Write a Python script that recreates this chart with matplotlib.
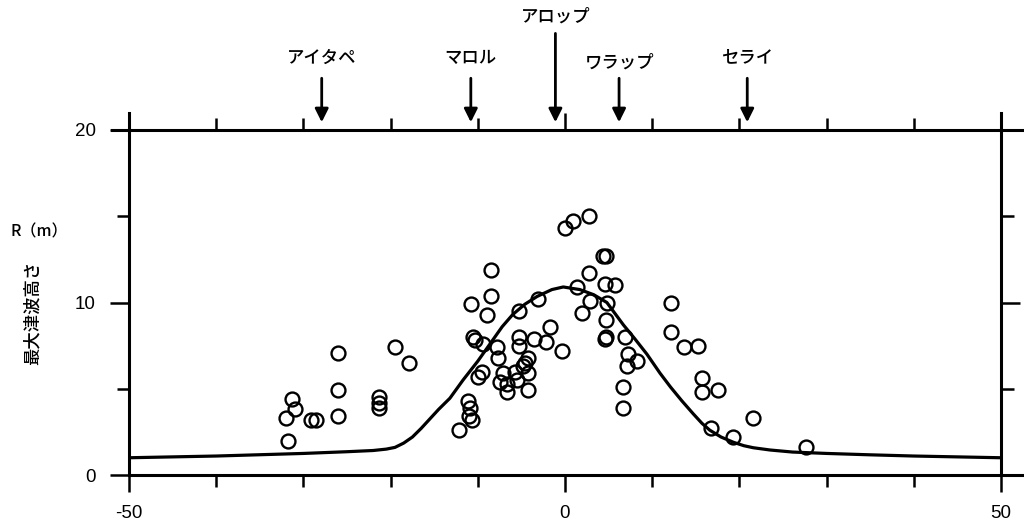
import matplotlib
matplotlib.use("Agg")
import matplotlib.pyplot as plt
from matplotlib.ticker import MultipleLocator, FixedLocator

plt.rcParams['font.family'] = ['Noto Sans CJK JP', 'DejaVu Sans']
plt.rcParams['axes.unicode_minus'] = False

# observed run-up heights (distance km, height m)
obs_x = [-31.3, -31.0, -32.0, -31.8, -29.1, -28.6, -26.0, -26.0, -26.0,
         -21.3, -21.3, -21.3, -19.5, -17.9,
         -11.1, -10.9, -11.0, -10.7, -12.1,
         -10.8, -10.6, -10.3, -9.4, -7.8, -7.7, -10.0, -9.5,
         -8.5, -8.5, -8.9,
         -7.1, -7.5, -6.6, -6.7, -5.7, -5.5, -4.6, -4.3, -4.3, -4.8, -4.3,
         -5.3, -5.3, -5.3, -3.1, -3.6, -2.2, -1.7, -0.4,
         0.0, 0.9, 2.8,
         4.4, 4.7, 2.8, 4.6, 5.7, 1.4, 2.9, 2.0, 4.8, 4.7, 4.7, 4.6,
         6.9, 7.2, 8.3, 7.1, 6.7, 6.7,
         12.1, 12.1, 13.6, 15.2, 15.7, 15.7, 17.6, 21.6, 16.7, 19.3, 27.6]
obs_y = [4.4, 3.8, 3.3, 2.0, 3.2, 3.2, 7.1, 4.9, 3.4,
         4.5, 4.2, 3.9, 7.4, 6.5,
         4.3, 3.9, 3.4, 3.2, 2.6,
         9.9, 8.0, 7.8, 7.6, 7.4, 6.8, 5.7, 6.0,
         11.9, 10.4, 9.3,
         5.9, 5.4, 5.3, 4.8, 6.0, 5.5, 6.5, 6.8, 5.9, 6.3, 4.9,
         9.5, 8.0, 7.5, 10.2, 7.9, 7.7, 8.6, 7.2,
         14.3, 14.7, 15.0,
         12.7, 12.7, 11.7, 11.1, 11.0, 10.9, 10.1, 9.4, 10.0, 9.0, 8.0, 7.9,
         8.0, 7.0, 6.6, 6.3, 5.1, 3.9,
         10.0, 8.3, 7.4, 7.5, 5.6, 4.8, 4.9, 3.3, 2.7, 2.2, 1.6]

# computed maximum tsunami height
calc_x = [-50, -40, -30, -25, -22, -20.5, -19.5, -18.5, -17.5, -16.5, -15.5,
          -14.5, -13.2, -11.7, -10.0, -8.6, -7.2, -6.0, -4.6, -3.2, -1.5, -0.2,
          1.7, 3.3, 4.8, 6.7, 8.0, 9.4, 10.9, 12.1, 13.4, 14.7, 15.7, 16.6,
          17.9, 19.3, 20.5, 21.6, 23.5, 26.1, 30, 35, 40, 50]
calc_y = [1.0, 1.1, 1.25, 1.35, 1.42, 1.5, 1.6, 1.85, 2.2, 2.7, 3.25,
          3.8, 4.45, 5.5, 6.6, 7.6, 8.6, 9.3, 9.9, 10.35, 10.75, 10.9,
          10.75, 10.45, 10.0, 8.7, 7.9, 7.0, 5.9, 5.1, 4.3, 3.55, 3.0, 2.6,
          2.2, 1.9, 1.7, 1.58, 1.45, 1.33, 1.25, 1.17, 1.1, 1.0]

# places marked on the top axis
places = ['アイタペ', 'マロル', 'アロップ', 'ワラップ', 'セライ']
place_x = [-27.9, -10.8, -1.1, 6.2, 20.9]
arrow_top = [23.0, 23.0, 25.6, 23.0, 23.0]
label_y = [24.2, 24.2, 26.55, 23.9, 24.2]

fig = plt.figure(figsize=(10.24, 5.28), dpi=100)
ax = fig.add_axes([129 / 1024, 53 / 528, 872 / 1024, 345 / 528])

ax.plot(calc_x, calc_y, color='black', lw=2.3, solid_capstyle='round',
        solid_joinstyle='round')
ax.plot(obs_x, obs_y, 'o', ms=10, mfc='none', mec='black', mew=1.7)

ax.set_xlim(-50, 50)
ax.set_ylim(0, 20)

for s in ax.spines.values():
    s.set_linewidth(2.2)

ax.xaxis.set_major_locator(FixedLocator([-50, 0, 50]))
ax.xaxis.set_minor_locator(MultipleLocator(10))
ax.yaxis.set_major_locator(FixedLocator([0, 10, 20]))
ax.yaxis.set_minor_locator(MultipleLocator(5))
ax.tick_params(axis='x', which='major', direction='out', length=12.5, width=1.8,
               top=True, bottom=True, pad=9, labelsize=13.5)
ax.tick_params(axis='x', which='minor', direction='out', length=8.5, width=1.8,
               top=True, bottom=True)
ax.tick_params(axis='y', which='major', direction='out', length=14, width=1.8,
               left=True, right=True, pad=10, labelsize=13.5)
ax.tick_params(axis='y', which='minor', direction='out', length=9, width=1.8,
               left=True, right=True)
for lab in ax.get_xticklabels() + ax.get_yticklabels():
    lab.set_family('Liberation Sans')

# extend the frame lines past the corners
ext = dict(color='black', lw=2.2, transform=ax.transAxes, clip_on=False)
ax.plot([1, 1.027], [0, 0], **ext)
ax.plot([1, 1.027], [1, 1], **ext)
ax.plot([-0.02, 0], [1, 1], **ext)
ax.plot([0, 0], [1, 1.05], **ext)
ax.plot([1, 1], [1, 1.05], **ext)

for name, px, top, ly in zip(places, place_x, arrow_top, label_y):
    ax.annotate('', xy=(px, 20.45), xytext=(px, top), xycoords='data',
                annotation_clip=False,
                arrowprops=dict(arrowstyle='-|>', color='black', lw=2,
                                mutation_scale=20, shrinkA=0, shrinkB=0))
    ax.text(px, ly, name, ha='center', va='center', fontsize=12.5,
            fontweight='medium', clip_on=False)

fig.text(10 / 1024, 1 - 232 / 528, 'R（m）', ha='left', va='center',
         fontsize=11.5, fontweight='medium')
fig.text(33 / 1024, 1 - 313 / 528, '最大津波高さ', rotation=90,
         ha='center', va='center', fontsize=12.5, fontweight='medium')

fig.savefig('out.png', dpi=100)
